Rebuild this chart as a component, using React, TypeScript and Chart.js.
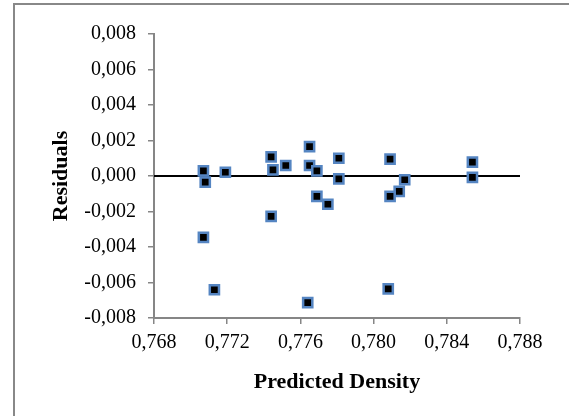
import React, { useEffect, useRef } from "react";
import { Chart, registerables } from "chart.js";

Chart.register(...registerables);

const predictedDensity = [
  0.7707, 0.7708, 0.7707, 0.7713, 0.7719, 0.7744, 0.7745, 0.7744, 0.7752, 0.7765,
  0.7765, 0.7764, 0.7769, 0.7769, 0.7775, 0.7781, 0.7781, 0.7809, 0.7817, 0.7814,
  0.7809, 0.7808, 0.7854, 0.7854,
];
const residuals = [
  0.00029, -0.00035, -0.00346, -0.00641, 0.00021, 0.00108, 0.00035, -0.00228, 0.00059, 0.00166,
  0.00059, -0.00713, 0.00029, -0.00115, -0.00159, 0.001, -0.00016, 0.00095, -0.00021, -0.00087,
  -0.00115, -0.00636, 0.00078, -0.00008,
];
const xRange = [0.768, 0.788];
const yRange = [-0.008, 0.008];
const zeroLine = [0, 0];

const fmt = (v: number) => {
  const n = Math.abs(v) < 1e-9 ? 0 : v;
  return n.toFixed(3).replace(".", ",");
};

export default function App() {
  const ref = useRef<HTMLCanvasElement>(null);
  useEffect(() => {
    if (!ref.current) return;
    const font = "'Liberation Serif', 'Times New Roman', serif";
    const chart = new Chart(ref.current, {
      type: "scatter",
      data: {
        datasets: [
          {
            label: "Residuals",
            data: predictedDensity.map((x, i) => ({ x, y: residuals[i] })),
            pointStyle: "rect",
            pointRadius: 6.5,
            pointHoverRadius: 6.5,
            backgroundColor: "#000000",
            borderColor: "#5585c2",
            borderWidth: 2.5,
            order: 0,
          },
          {
            type: "line",
            label: "zero",
            data: xRange.map((x, i) => ({ x, y: zeroLine[i] })),
            borderColor: "#000000",
            borderWidth: 2,
            pointRadius: 0,
            showLine: true,
            fill: false,
            order: 1,
          } as any,
        ],
      },
      options: {
        animation: false,
        responsive: false,
        maintainAspectRatio: false,
        layout: { padding: { top: 34, right: 49, left: 0, bottom: 0 } },
        plugins: { legend: { display: false }, tooltip: { enabled: false } },
        scales: {
          x: {
            type: "linear",
            min: xRange[0],
            max: xRange[1],
            afterFit: (s: any) => {
              s.height = 98;
            },
            ticks: {
              stepSize: 0.004,
              callback: (v: any) => fmt(Number(v)),
              color: "#000000",
              font: { family: font, size: 20 },
              padding: 7,
              maxRotation: 0,
            },
            grid: {
              drawOnChartArea: false,
              drawTicks: true,
              tickLength: 6,
              color: "#868686",
              lineWidth: 1.5,
            },
            border: { display: true, color: "#868686", width: 2 },
            title: {
              display: true,
              text: "Predicted Density",
              color: "#000000",
              font: { family: font, size: 22, weight: "bold" },
              padding: { top: 0, bottom: 20 },
            },
          },
          y: {
            type: "linear",
            min: yRange[0],
            max: yRange[1],
            afterFit: (s: any) => {
              s.width = 154;
            },
            ticks: {
              stepSize: 0.002,
              callback: (v: any) => fmt(Number(v)),
              color: "#000000",
              font: { family: font, size: 20 },
              padding: 12,
            },
            grid: {
              drawOnChartArea: false,
              drawTicks: true,
              tickLength: 6,
              color: "#868686",
              lineWidth: 1.5,
            },
            border: { display: true, color: "#868686", width: 2 },
            title: {
              display: true,
              text: "Residuals",
              color: "#000000",
              font: { family: font, size: 22, weight: "bold" },
              padding: { top: 48, bottom: 0 },
            },
          },
        },
      },
    });
    return () => chart.destroy();
  }, []);

  return (
    <div
      style={{
        position: "fixed",
        left: 0,
        top: 0,
        width: 569,
        height: 416,
        overflow: "hidden",
        background: "#ffffff",
      }}
    >
      <div
        style={{
          position: "absolute",
          left: 13,
          top: 3,
          width: 600,
          height: 450,
          borderLeft: "2px solid #888888",
          borderTop: "2px solid #888888",
          boxSizing: "border-box",
        }}
      />
      <canvas
        ref={ref}
        width={569}
        height={416}
        style={{ position: "absolute", left: 0, top: 0, width: 569, height: 416 }}
      />
    </div>
  );
}
